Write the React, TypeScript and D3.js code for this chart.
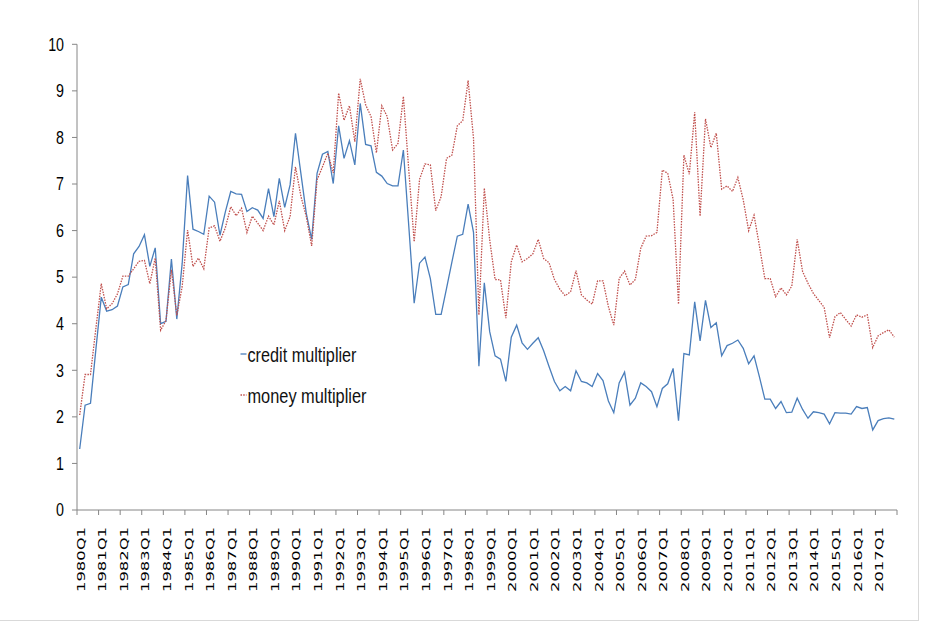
import React from 'react';
import * as d3 from 'd3';

// quarterly categories 1980Q1 .. 2017Q4
const years = d3.range(1980, 2018);
const quarters = ['Q1', 'Q2', 'Q3', 'Q4'];
const categories = years.flatMap(y => quarters.map(q => `${y}${q}`));

const yTicks = [0, 1, 2, 3, 4, 5, 6, 7, 8, 9, 10];

const creditMultiplier = [
  1.31, 2.25, 2.29, 3.45, 4.57, 4.27, 4.30, 4.38, 4.79, 4.84,
  5.50, 5.66, 5.91, 5.23, 5.63, 4.00, 4.05, 5.39, 4.10, 5.30,
  7.18, 6.03, 5.98, 5.92, 6.74, 6.61, 5.90, 6.40, 6.84, 6.79,
  6.78, 6.41, 6.49, 6.44, 6.26, 6.90, 6.30, 7.12, 6.50, 6.98,
  8.09, 7.23, 6.37, 5.81, 7.23, 7.64, 7.70, 7.01, 8.25, 7.55,
  7.93, 7.41, 8.73, 7.85, 7.82, 7.25, 7.17, 7.01, 6.96, 6.96,
  7.73, 6.10, 4.44, 5.30, 5.43, 4.97, 4.20, 4.20, 4.76, 5.33,
  5.88, 5.92, 6.57, 5.96, 3.09, 4.88, 3.83, 3.31, 3.24, 2.76,
  3.71, 3.97, 3.59, 3.45, 3.58, 3.70, 3.42, 3.08, 2.76, 2.56,
  2.65, 2.56, 2.99, 2.76, 2.73, 2.65, 2.93, 2.78, 2.34, 2.09,
  2.73, 2.96, 2.25, 2.40, 2.73, 2.65, 2.54, 2.22, 2.61, 2.71,
  3.04, 1.92, 3.36, 3.33, 4.47, 3.63, 4.50, 3.92, 4.02, 3.31,
  3.53, 3.58, 3.65, 3.47, 3.14, 3.31, 2.86, 2.38, 2.38, 2.18,
  2.33, 2.09, 2.10, 2.40, 2.16, 1.97, 2.11, 2.09, 2.06, 1.85,
  2.09, 2.08, 2.08, 2.06, 2.22, 2.18, 2.20, 1.72, 1.92, 1.96,
  1.98, 1.95,
];

const moneyMultiplier = [
  2.04, 2.91, 2.91, 3.90, 4.86, 4.32, 4.43, 4.64, 5.02, 5.02,
  5.18, 5.34, 5.36, 4.86, 5.41, 3.86, 4.07, 5.16, 4.18, 4.80,
  6.01, 5.23, 5.41, 5.18, 6.06, 6.10, 5.77, 6.06, 6.51, 6.32,
  6.48, 5.96, 6.31, 6.16, 6.00, 6.31, 6.12, 6.64, 6.00, 6.30,
  7.37, 6.74, 6.30, 5.67, 7.09, 7.37, 7.66, 7.24, 8.95, 8.37,
  8.68, 7.91, 9.26, 8.70, 8.45, 7.67, 8.68, 8.45, 7.73, 7.87,
  8.88, 7.30, 5.76, 7.10, 7.43, 7.41, 6.43, 6.73, 7.55, 7.62,
  8.25, 8.36, 9.22, 7.98, 4.19, 6.91, 5.80, 4.95, 4.94, 4.12,
  5.33, 5.69, 5.33, 5.40, 5.50, 5.81, 5.40, 5.31, 4.95, 4.74,
  4.60, 4.69, 5.14, 4.62, 4.51, 4.42, 4.92, 4.92, 4.37, 3.97,
  4.97, 5.13, 4.83, 4.95, 5.62, 5.88, 5.89, 5.96, 7.30, 7.23,
  6.67, 4.42, 7.62, 7.21, 8.54, 6.31, 8.40, 7.78, 8.09, 6.89,
  6.96, 6.84, 7.14, 6.66, 6.00, 6.33, 5.67, 4.97, 4.97, 4.58,
  4.77, 4.62, 4.81, 5.81, 5.12, 4.87, 4.65, 4.50, 4.35, 3.70,
  4.15, 4.24, 4.09, 3.95, 4.19, 4.14, 4.19, 3.49, 3.74, 3.81,
  3.87, 3.71,
];

const seriesNames = ['credit multiplier', 'money multiplier'];

const W = 934;
const H = 628;
const left = 77, right = 897, top = 44.3, bottom = 510;
const axisColor = '#868686';
const blue = '#4a7ebb';
const red = '#c0504d';

export default function App() {
  const x = d3.scaleBand().domain(categories).range([left, right]).padding(0);
  const y = d3.scaleLinear().domain([0, 10]).range([bottom, top]);
  const cx = (c: string) => (x(c) as number) + x.bandwidth() / 2;

  const line = d3.line<number>()
    .x((d, i) => cx(categories[i]))
    .y(d => y(d));

  // tick marks every 4 categories (year boundaries) plus the end
  const tickPos = d3.range(0, categories.length + 1, 4).map(i =>
    i < categories.length ? (x(categories[i]) as number) : right);
  const labelCats = categories.filter((c, i) => i % 4 === 0);

  return (
    <div style={{ position: 'absolute', left: 0, top: 0 }}>
      <svg width={W} height={H} style={{ display: 'block', background: '#fff' }}>
        {/* chart area border */}
        <line x1={918.5} x2={918.5} y1={0} y2={621} stroke="#d9d9d9" />
        <line x1={0} x2={918.5} y1={620.5} y2={620.5} stroke="#d9d9d9" />

        {/* y axis */}
        <line x1={left} x2={left} y1={top} y2={bottom} stroke={axisColor} />
        {yTicks.map(t => (
          <g key={t}>
            <line x1={left - 5} x2={left} y1={y(t)} y2={y(t)} stroke={axisColor} />
            <text
              transform={`translate(64,${y(t)}) scale(0.75,1)`}
              textAnchor="end"
              dominantBaseline="central"
              fontFamily="Liberation Sans, Arial, sans-serif"
              fontSize={19}
              fill="#000"
            >{t}</text>
          </g>
        ))}

        {/* x axis */}
        <line x1={left} x2={right} y1={bottom} y2={bottom} stroke={axisColor} />
        {tickPos.map((p, i) => (
          <line key={i} x1={p} x2={p} y1={bottom} y2={bottom + 5} stroke={axisColor} />
        ))}
        {labelCats.map(c => (
          <text
            key={c}
            transform={`translate(${cx(c) + 1},527) rotate(-90)`}
            textAnchor="end"
            dominantBaseline="central"
            fontFamily="DejaVu Sans, Verdana, sans-serif"
            fontSize={10.5}
            textLength={65}
            lengthAdjust="spacingAndGlyphs"
            fill="#000"
          >{c}</text>
        ))}

        {/* series */}
        <path d={line(creditMultiplier) || ''} fill="none" stroke={blue} strokeWidth={1.3} />
        <path d={line(moneyMultiplier) || ''} fill="none" stroke={red} strokeWidth={1.3}
          strokeDasharray="1.5,1.2" />

        {/* legend */}
        <line x1={240.5} x2={246.5} y1={354} y2={354} stroke={blue} strokeWidth={1.3} />
        <text x={247.5} y={361.5} fontFamily="Liberation Sans, Arial, sans-serif" fontSize={20}
          textLength={109} lengthAdjust="spacingAndGlyphs" fill="#111">{seriesNames[0]}</text>
        <line x1={240.5} x2={246.5} y1={395} y2={395} stroke={red} strokeWidth={1.3}
          strokeDasharray="1.5,1.2" />
        <text x={247.5} y={403} fontFamily="Liberation Sans, Arial, sans-serif" fontSize={20}
          textLength={119} lengthAdjust="spacingAndGlyphs" fill="#111">{seriesNames[1]}</text>
      </svg>
    </div>
  );
}
